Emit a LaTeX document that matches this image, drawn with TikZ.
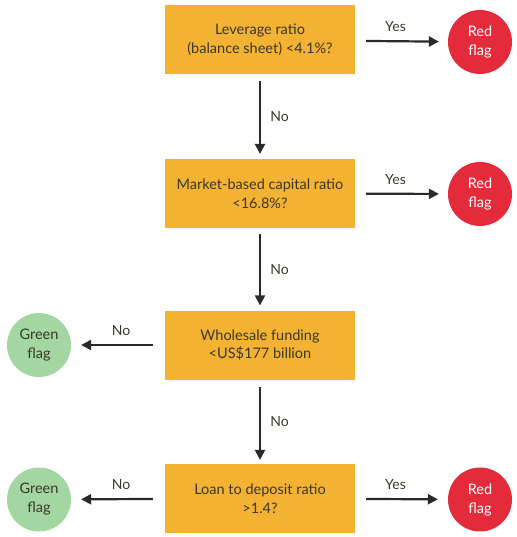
\documentclass[tikz,border=0pt]{standalone}
\usepackage{fontspec}
\setmainfont{Lato}
\usetikzlibrary{arrows.meta}
\definecolor{boxorange}{HTML}{F4B233}
\definecolor{flagred}{HTML}{E32B3B}
\definecolor{flaggreen}{HTML}{A3D6A1}
\definecolor{txtdark}{HTML}{3A3828}
\definecolor{arrowgray}{HTML}{2A2A2A}

\begin{document}
\begin{tikzpicture}[x=1pt,y=-1pt,line width=2.2pt,>={Triangle[length=10pt,width=10pt]},
  test/.style={fill=boxorange,minimum width=190pt,minimum height=69pt,align=center,
    text=txtdark,font=\fontsize{14.5}{18.5}\selectfont},
  redflag/.style={circle,fill=flagred,minimum size=64pt,inner sep=0pt,align=center,
    text=white,font=\fontsize{14.5}{19}\selectfont},
  greenflag/.style={redflag,fill=flaggreen,text=txtdark},
  lbl/.style={text=txtdark,font=\fontsize{14}{16}\selectfont},
  flow/.style={->,draw=arrowgray}]
  \useasboundingbox (0,0) rectangle (516,537);
  % tests, top to bottom
  \node[test] (lev) at (260,40) {Leverage ratio\\(balance sheet) <4.1\%?};
  \node[test] (cap) at (260,193.5) {Market-based capital ratio\\<16.8\%?};
  \node[test] (whl) at (260,345) {Wholesale funding\\<US\$177 billion};
  \node[test] (ltd) at (260,498.5) {Loan to deposit ratio\\>1.4?};
  % flags
  \node[redflag] (red1) at (480,42) {Red\\flag};
  \node[redflag] (red2) at (480,194) {Red\\flag};
  \node[greenflag] (grn1) at (39,345) {Green\\flag};
  \node[greenflag] (grn2) at (39,499.5) {Green\\flag};
  \node[redflag] (red3) at (480,499.5) {Red\\flag};
  % down the chain
  \draw[flow,shorten <=5pt,shorten >=4pt] (lev) -- node[lbl,right=6pt] (no1) {No} (cap);
  \draw[flow,shorten <=5pt,shorten >=4pt] (cap) -- node[lbl,right=6pt] (no2) {No} (whl);
  \draw[flow,shorten <=6pt,shorten >=3pt] (whl) -- node[lbl,right=6pt] (no3) {No} (ltd);
  % sideways
  \draw[flow,shorten <=10pt,shorten >=8pt] (lev) -- node[lbl,above=5pt,xshift=-6pt] (yes1) {Yes} (red1);
  \draw[flow,shorten <=10pt,shorten >=8pt] (cap) -- node[lbl,above=5pt,xshift=-6pt] (yes2) {Yes} (red2);
  \draw[flow,shorten <=10pt,shorten >=9pt] (ltd) -- node[lbl,above=5pt,xshift=-6pt] (yes3) {Yes} (red3);
  \draw[flow,shorten <=11pt,shorten >=9pt] (whl) -- node[lbl,above=5pt,xshift=3pt] (no4) {No} (grn1);
  \draw[flow,shorten <=11pt,shorten >=9pt] (ltd) -- node[lbl,above=5pt,xshift=3pt] (no5) {No} (grn2);
\end{tikzpicture}
\end{document}
